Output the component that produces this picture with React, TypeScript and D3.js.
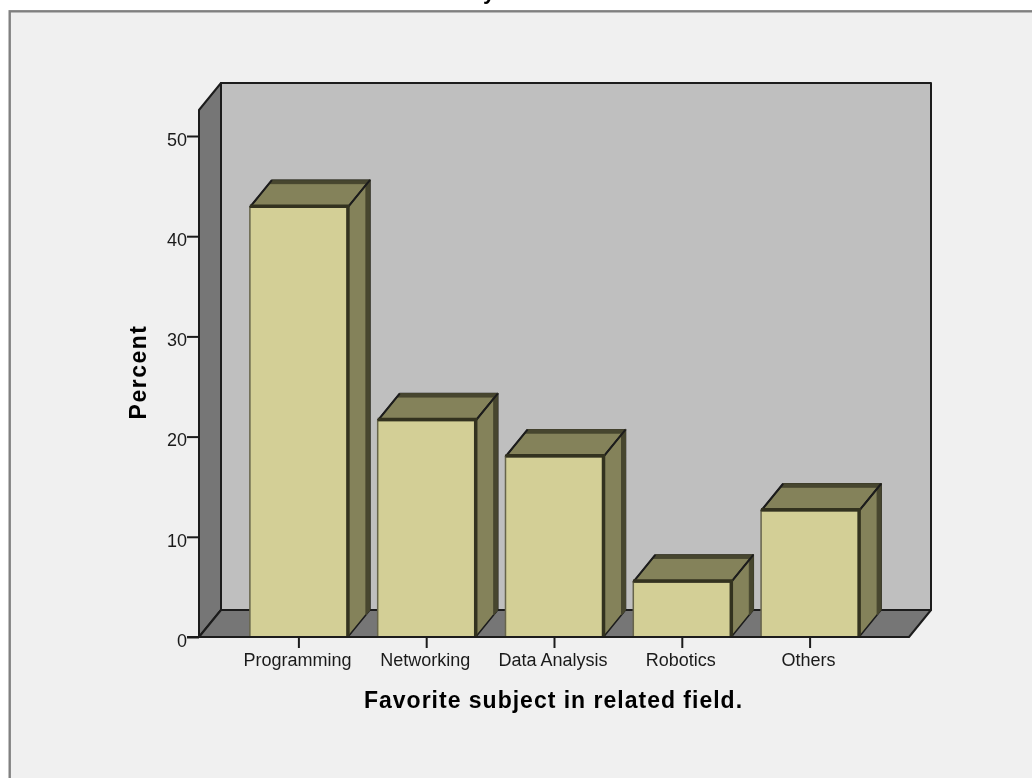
import { useEffect, useRef } from 'react';
import * as d3 from 'd3';

const subjects = ['Programming', 'Networking', 'Data Analysis', 'Robotics', 'Others'];
const percents = [42.9, 21.6, 18.0, 5.5, 12.6];
const yTicks = [0, 10, 20, 30, 40, 50];

const W = 1032;
const H = 778;
const FONT = '"Liberation Sans", Arial, sans-serif';
const DX = 22;
const DY = -27;

export default function App() {
  const ref = useRef<SVGSVGElement>(null);

  useEffect(() => {
    const svg = d3.select(ref.current);
    svg.selectAll('*').remove();

    const y = d3.scaleLinear().domain([0, 50]).range([637, 136]);
    const x = d3.scaleBand().domain(subjects).range([235, 874]).paddingInner(0.233).paddingOuter(0.1165);

    const floorY = y(0);
    const topY = 110;
    const left = 199;
    const right = 909;
    const stroke = '#1c1c1c';
    const band = '#47462f';

    svg.append('rect').attr('width', W).attr('height', H).attr('fill', '#fff');
    svg.append('rect').attr('x', 9.7).attr('y', 11.3).attr('width', W + 20).attr('height', H + 20)
      .attr('fill', '#f0f0f0').attr('stroke', '#808080').attr('stroke-width', 2.4);

    // descender of the cut-off chart title, only its tail shows at the top edge
    svg.append('text').attr('x', 483).attr('y', -1)
      .attr('font-family', FONT).attr('font-weight', 'bold').attr('font-size', 22)
      .attr('fill', '#000').text('y');

    const poly = (pts: [number, number][], fill: string, sw = 2, col = stroke) =>
      svg.append('path').attr('d', d3.line()(pts) + 'Z').attr('fill', fill)
        .attr('stroke', col).attr('stroke-width', sw).attr('stroke-linejoin', 'round');

    // back wall, side wall, floor
    poly([[left + DX, topY + DY], [right + DX, topY + DY], [right + DX, floorY + DY], [left + DX, floorY + DY]], '#bfbfbf');
    poly([[left, topY], [left + DX, topY + DY], [left + DX, floorY + DY], [left, floorY]], '#767676');
    poly([[left, floorY], [left + DX, floorY + DY], [right + DX, floorY + DY], [right, floorY]], '#767676');

    // bars
    subjects.forEach((s, i) => {
      const x0 = x(s)!;
      const x1 = x0 + x.bandwidth();
      const t = y(percents[i]);
      poly([[x0, t], [x0 + DX, t + DY], [x1 + DX, t + DY], [x1, t]], '#84825a', 1.5);
      poly([[x1, t], [x1 + DX, t + DY], [x1 + DX, floorY + DY], [x1, floorY]], '#84825a', 1.5);
      // dark strips along the back edges of the depth faces
      poly([[x0 + DX, t + DY], [x1 + DX, t + DY], [x1 + DX - 3, t + DY + 3.5], [x0 + DX - 3, t + DY + 3.5]], band, 1, band);
      poly([[x1 + DX, t + DY], [x1 + DX, floorY + DY], [x1 + DX - 4, floorY + DY + 5], [x1 + DX - 4, t + DY + 5]], band, 1, band);
      svg.append('line').attr('x1', x0).attr('y1', t).attr('x2', x0 + DX).attr('y2', t + DY).attr('stroke', stroke).attr('stroke-width', 2);
      svg.append('line').attr('x1', x1).attr('y1', t).attr('x2', x1 + DX).attr('y2', t + DY).attr('stroke', stroke).attr('stroke-width', 2);
      poly([[x0, t], [x1, t], [x1, floorY], [x0, floorY]], '#d3cf96', 1.5, '#66644a');
      svg.append('path').attr('d', d3.line()([[x0, t - 1], [x1, t - 1], [x1, floorY]]))
        .attr('fill', 'none').attr('stroke', '#33321f').attr('stroke-width', 3.5);
    });

    // y axis
    const yAxis = svg.append('g').attr('transform', `translate(${left},0)`)
      .call(d3.axisLeft(y).tickValues(yTicks).tickSize(12).tickPadding(0).tickFormat(d3.format('d')));
    yAxis.select('.domain').remove();
    yAxis.selectAll('line').attr('stroke', stroke).attr('stroke-width', 2);
    yAxis.selectAll('text').attr('font-family', FONT).attr('font-size', 18).attr('fill', '#1a1a1a')
      .attr('dy', '0.52em');

    // x axis
    const xAxis = svg.append('g').attr('transform', `translate(0,${floorY})`)
      .call(d3.axisBottom(x).tickSize(11).tickPadding(5));
    xAxis.select('.domain').remove();
    xAxis.selectAll('line').attr('stroke', stroke).attr('stroke-width', 2);
    xAxis.selectAll('text').attr('font-family', FONT).attr('font-size', 18).attr('fill', '#1a1a1a')
      .attr('dx', -1.5);

    svg.append('line').attr('x1', left - 12).attr('x2', right).attr('y1', floorY).attr('y2', floorY)
      .attr('stroke', stroke).attr('stroke-width', 2);

    svg.append('text').attr('x', 553.5).attr('y', 708).attr('text-anchor', 'middle')
      .attr('font-family', FONT).attr('font-weight', 'bold').attr('font-size', 23)
      .attr('letter-spacing', 1).attr('fill', '#000').text('Favorite subject in related field.');

    svg.append('text').attr('transform', 'translate(146,372) rotate(-90)').attr('text-anchor', 'middle')
      .attr('font-family', FONT).attr('font-weight', 'bold').attr('font-size', 23)
      .attr('letter-spacing', 1.5).attr('fill', '#000').text('Percent');
  }, []);

  return (
    <svg ref={ref} width={W} height={H} viewBox={`0 0 ${W} ${H}`}
      style={{ position: 'fixed', left: 0, top: 0, display: 'block' }} />
  );
}
